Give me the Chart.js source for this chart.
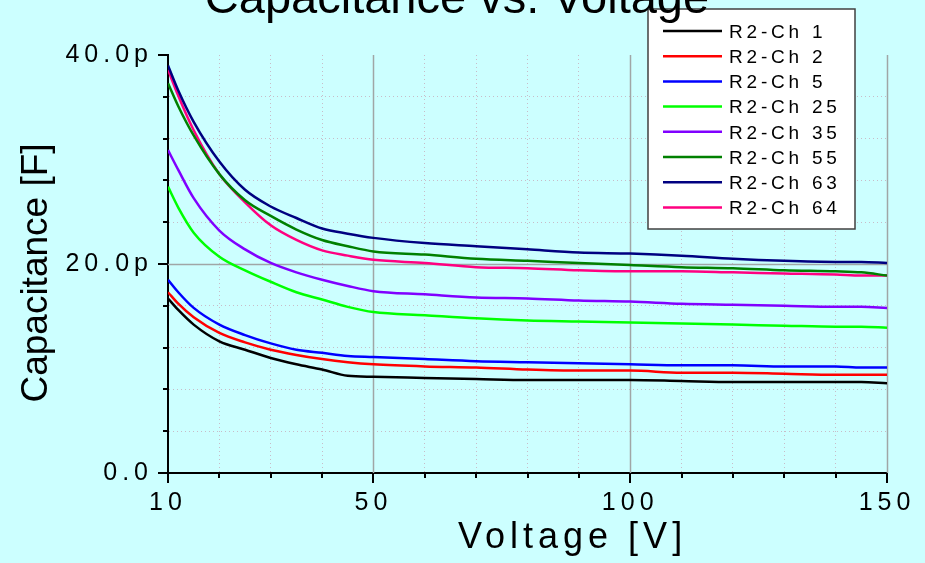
<!DOCTYPE html>
<html>
<head>
<meta charset="utf-8">
<title>Capacitance vs. Voltage</title>
<script src="https://cdn.jsdelivr.net/npm/chart.js@4.4.1/dist/chart.umd.min.js"></script>
<style>
  html, body { margin: 0; padding: 0; background: #ccffff; }
  canvas { display: block; }
</style>
</head>
<body>
<canvas id="capChart" width="925" height="563"></canvas>
<script>
// bias voltage [V]
const voltage = [10, 12, 15, 20, 25, 30, 35, 40, 45, 50, 60, 70, 80, 90, 100, 110, 120, 130, 140, 145, 150];

// capacitance per channel, in pF
const ch1  = [16.7, 15.6, 14.2, 12.6, 11.8, 11.0, 10.4, 9.9, 9.3, 9.2, 9.1, 9.0, 8.9, 8.9, 8.9, 8.8, 8.7, 8.7, 8.7, 8.7, 8.6];
const ch2  = [17.3, 16.2, 14.9, 13.4, 12.5, 11.8, 11.3, 10.9, 10.6, 10.4, 10.2, 10.1, 9.9, 9.8, 9.8, 9.6, 9.6, 9.5, 9.4, 9.4, 9.4];
const ch5  = [18.5, 17.3, 15.8, 14.2, 13.2, 12.4, 11.8, 11.5, 11.2, 11.1, 10.9, 10.7, 10.6, 10.5, 10.4, 10.3, 10.3, 10.2, 10.2, 10.1, 10.1];
const ch25 = [27.4, 25.4, 23.0, 20.7, 19.4, 18.3, 17.3, 16.6, 15.9, 15.4, 15.1, 14.8, 14.6, 14.5, 14.4, 14.3, 14.2, 14.1, 14.0, 14.0, 13.9];
const ch35 = [30.9, 29.0, 26.3, 23.2, 21.4, 20.1, 19.2, 18.5, 17.9, 17.4, 17.1, 16.8, 16.7, 16.5, 16.4, 16.2, 16.1, 16.0, 15.9, 15.9, 15.8];
const ch55 = [37.3, 35.1, 32.3, 28.6, 26.1, 24.6, 23.3, 22.3, 21.7, 21.2, 20.9, 20.5, 20.3, 20.1, 19.9, 19.7, 19.6, 19.4, 19.3, 19.2, 18.9];
const ch63 = [39.0, 36.6, 33.6, 29.8, 27.1, 25.5, 24.4, 23.4, 22.9, 22.5, 22.0, 21.7, 21.4, 21.1, 21.0, 20.8, 20.5, 20.3, 20.2, 20.2, 20.1];
const ch64 = [38.6, 36.1, 32.8, 28.6, 25.9, 23.7, 22.3, 21.3, 20.8, 20.4, 20.1, 19.7, 19.6, 19.4, 19.3, 19.3, 19.2, 19.1, 19.0, 18.9, 18.9];

const seriesValues = [ch1, ch2, ch5, ch25, ch35, ch55, ch63, ch64];
const seriesNames = ['R2-Ch 1', 'R2-Ch 2', 'R2-Ch 5', 'R2-Ch 25', 'R2-Ch 35', 'R2-Ch 55', 'R2-Ch 63', 'R2-Ch 64'];
const seriesColors = ['#000000', '#ff0000', '#0000ff', '#00ff00', '#8000ff', '#008000', '#000080', '#ff0080'];

// tick labels
const xLabelValues = [10, 50, 100, 150];
const yLabelValues = [0, 20, 40];
const yLabelTexts = ['0.0', '20.0p', '40.0p'];

const FONT = "'Liberation Sans', Arial, Helvetica, sans-serif";
Chart.defaults.font.family = FONT;
Chart.defaults.color = '#000';

const isMajorX = v => v === 10 || v === 150 || v % 50 === 0;
const isMajorY = v => v % 20 === 0;

// background, spaced tick labels, solid major grid lines, tick marks, legend and titles
const framePlugin = {
    id: 'frame',
    beforeDraw(chart) {
        const ctx = chart.ctx;
        ctx.save();
        ctx.fillStyle = '#ccffff';
        ctx.fillRect(0, 0, chart.width, chart.height);
        ctx.restore();
        ctx.letterSpacing = '5px';
    },
    beforeDatasetsDraw(chart) {
        const ctx = chart.ctx;
        ctx.letterSpacing = '0px';
        const area = chart.chartArea;
        const xs = chart.scales.x, ys = chart.scales.y;
        ctx.save();
        ctx.strokeStyle = 'rgb(160,166,166)';
        ctx.lineWidth = 1.5;
        xs.ticks.forEach(t => {
            if (t.value % 50 === 0) {
                const px = Math.round(xs.getPixelForValue(t.value)) + 0.5;
                ctx.beginPath(); ctx.moveTo(px, area.top); ctx.lineTo(px, area.bottom); ctx.stroke();
            }
        });
        ys.ticks.forEach(t => {
            if (t.value === 20) {
                const py = Math.round(ys.getPixelForValue(t.value)) + 0.5;
                ctx.beginPath(); ctx.moveTo(area.left, py); ctx.lineTo(area.right, py); ctx.stroke();
            }
        });
        // tick marks
        ctx.strokeStyle = '#000';
        ctx.lineWidth = 2;
        xs.ticks.forEach(t => {
            const px = Math.round(xs.getPixelForValue(t.value));
            const len = isMajorX(t.value) ? 10 : 5;
            ctx.beginPath(); ctx.moveTo(px, area.bottom); ctx.lineTo(px, area.bottom + len); ctx.stroke();
        });
        ys.ticks.forEach(t => {
            const py = Math.round(ys.getPixelForValue(t.value));
            const len = isMajorY(t.value) ? 10 : 5;
            ctx.beginPath(); ctx.moveTo(area.left, py); ctx.lineTo(area.left - len, py); ctx.stroke();
        });
        ctx.restore();
    },
    afterDraw(chart) {
        const ctx = chart.ctx;
        ctx.save();
        ctx.letterSpacing = '0px';

        // legend box
        const bx = 648, by = 9, bw = 207, bh = 220;
        ctx.fillStyle = '#ffffff';
        ctx.fillRect(bx, by, bw, bh);
        ctx.strokeStyle = '#404040';
        ctx.lineWidth = 1.5;
        ctx.strokeRect(bx, by, bw, bh);
        ctx.font = '19px ' + FONT;
        ctx.letterSpacing = '3.8px';
        ctx.textAlign = 'left';
        ctx.textBaseline = 'alphabetic';
        chart.data.datasets.forEach((ds, i) => {
            const ly = 31 + i * 25.2;
            ctx.strokeStyle = ds.borderColor;
            ctx.lineWidth = 2.5;
            ctx.beginPath(); ctx.moveTo(663, ly); ctx.lineTo(722, ly); ctx.stroke();
            ctx.fillStyle = '#000';
            ctx.fillText(ds.label, 729, ly + 6.8);
        });

        // axis titles
        ctx.fillStyle = '#000';
        ctx.letterSpacing = '5px';
        ctx.font = '36px ' + FONT;
        ctx.fillText('Voltage [V]', 458, 548);

        ctx.letterSpacing = '0px';
        ctx.save();
        ctx.translate(47, 273);
        ctx.rotate(-Math.PI / 2);
        ctx.textAlign = 'center';
        ctx.font = '37px ' + FONT;
        ctx.fillText('Capacitance [F]', 0, 0);
        ctx.restore();

        // main title (partly off the top of the picture)
        ctx.textAlign = 'center';
        ctx.font = '47px ' + FONT;
        ctx.fillText('Capacitance vs. Voltage', 457, 13);
        ctx.restore();
    }
};

const ctx = document.getElementById('capChart').getContext('2d');
const capChart = new Chart(ctx, {
    type: 'line',
    data: {
        datasets: seriesValues.map((vals, i) => ({
            label: seriesNames[i],
            data: vals.map((v, j) => ({ x: voltage[j], y: v })),
            borderColor: seriesColors[i],
            backgroundColor: seriesColors[i],
            borderWidth: 2.5,
            pointRadius: 0,
            fill: false,
            cubicInterpolationMode: 'monotone'
        }))
    },
    options: {
        responsive: false,
        animation: false,
        layout: { padding: { left: 0, top: 55, right: 38, bottom: 0 } },
        plugins: {
            legend: { display: false },
            tooltip: { enabled: false }
        },
        scales: {
            x: {
                type: 'linear',
                min: 10,
                max: 150,
                afterFit: s => { s.height = 90; },
                ticks: {
                    stepSize: 10,
                    autoSkip: false,
                    maxRotation: 0,
                    padding: 15,
                    font: { size: 25 },
                    callback: v => xLabelValues.includes(v) ? String(v) : ''
                },
                grid: {
                    drawTicks: false,
                    lineWidth: 1,
                    color: c => (c.tick && isMajorX(c.tick.value)) ? 'rgba(0,0,0,0)' : '#c8bcc8'
                },
                border: { display: true, color: '#000', width: 2, dash: [1, 3] }
            },
            y: {
                min: 0,
                max: 40,
                afterFit: s => { s.width = 168; },
                ticks: {
                    stepSize: 4,
                    autoSkip: false,
                    padding: 15,
                    font: { size: 25 },
                    callback: v => {
                        const k = yLabelValues.indexOf(v);
                        return k >= 0 ? yLabelTexts[k] : '';
                    }
                },
                grid: {
                    drawTicks: false,
                    lineWidth: 1,
                    color: c => (c.tick && isMajorY(c.tick.value)) ? 'rgba(0,0,0,0)' : '#c8bcc8'
                },
                border: { display: true, color: '#000', width: 2, dash: [1, 3] }
            }
        }
    },
    plugins: [framePlugin]
});
</script>
</body>
</html>
